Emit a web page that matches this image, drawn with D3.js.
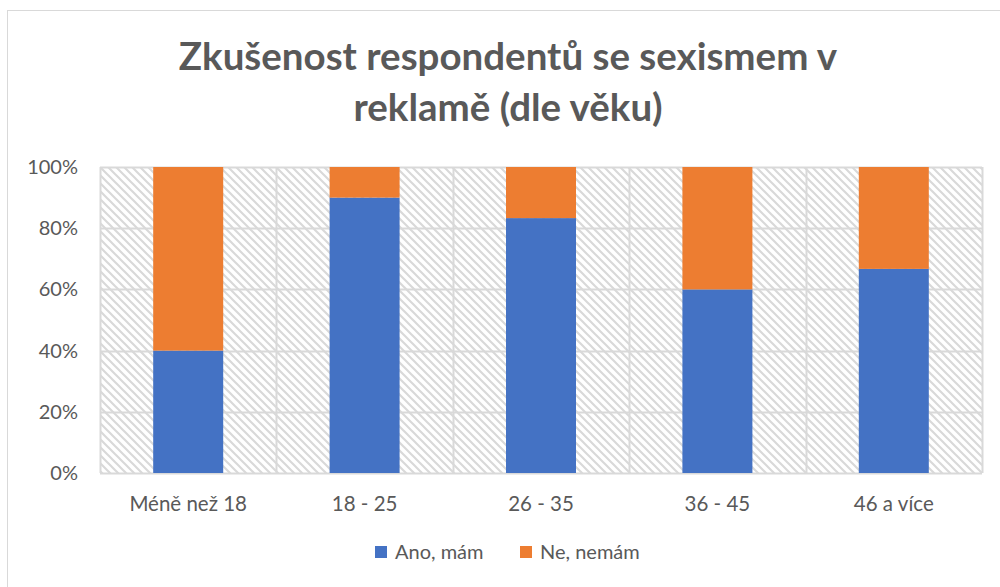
<!DOCTYPE html>
<html>
<head>
<meta charset="utf-8">
<script src="https://cdn.jsdelivr.net/npm/d3@7"></script>
<style>
  body { margin: 0; background: #fff; }
  text { font-family: Lato, "Open Sans", sans-serif; fill: #595959; }
</style>
</head>
<body>
<div id="chart"></div>
<script>
// chart data
var categories = ["Méně než 18", "18 - 25", "26 - 35", "36 - 45", "46 a více"];
var seriesNames = ["Ano, mám", "Ne, nemám"];
var ano = [40, 90, 83.3, 60, 66.7];
var ne = [60, 10, 16.7, 40, 33.3];
var yTicks = [0, 20, 40, 60, 80, 100];
var colors = ["#4472c4", "#ed7d31"];

var svgWidth = 1000;
var svgHeight = 587;
var margin = {top: 167, right: 18, bottom: 114, left: 100};
var width = svgWidth - margin.left - margin.right;
var height = svgHeight - margin.top - margin.bottom;

var svg = d3.select("#chart").append("svg")
  .attr("width", svgWidth).attr("height", svgHeight);

// hatch pattern for plot background
var defs = svg.append("defs");
var pat = defs.append("pattern")
  .attr("id", "hatch")
  .attr("patternUnits", "userSpaceOnUse")
  .attr("width", 8).attr("height", 8);
pat.append("path")
  .attr("d", "M-2,-2 L10,10 M-2,6 L2,10 M6,-2 L10,2")
  .attr("stroke", "#d9d9d9")
  .attr("stroke-width", 2.2);

// outer border
svg.append("rect")
  .attr("x", 7.5).attr("y", 10.5)
  .attr("width", 1000).attr("height", 600)
  .attr("fill", "none").attr("stroke", "#d9d9d9");

// title
var title = svg.append("text")
  .attr("text-anchor", "middle")
  .attr("font-size", 38.5)
  .attr("font-weight", "bold");
title.append("tspan").attr("x", 508).attr("y", 70).text("Zkušenost respondentů se sexismem v");
title.append("tspan").attr("x", 508).attr("y", 121).text("reklamě (dle věku)");

var chartGroup = svg.append("g")
  .attr("transform", `translate(${margin.left}, ${margin.top})`);

var x = d3.scaleBand().domain(categories).range([0, width]).paddingInner(0).paddingOuter(0);
var y = d3.scaleLinear().domain([0, 100]).range([height, 0]);

chartGroup.append("rect")
  .attr("width", width).attr("height", height)
  .attr("fill", "url(#hatch)");

// gridlines
chartGroup.selectAll(".hgrid").data(yTicks).enter().append("line")
  .attr("x1", 0).attr("x2", width)
  .attr("y1", d => Math.round(y(d)) + 0.5).attr("y2", d => Math.round(y(d)) + 0.5)
  .attr("stroke", "#d9d9d9").attr("stroke-width", 2);
var vlines = categories.map(c => x(c)).concat([width]);
chartGroup.selectAll(".vgrid").data(vlines).enter().append("line")
  .attr("x1", d => Math.round(d) + 0.5).attr("x2", d => Math.round(d) + 0.5)
  .attr("y1", 0).attr("y2", height)
  .attr("stroke", "#d9d9d9").attr("stroke-width", 2);

// stacked bars
var rows = categories.map((c, i) => ({cat: c, ano: ano[i], ne: ne[i]}));
var stack = d3.stack().keys(["ano", "ne"])(rows);
var barW = 70;
chartGroup.selectAll(".series").data(stack).enter().append("g")
  .attr("fill", (d, i) => colors[i])
  .selectAll("rect").data(d => d).enter().append("rect")
  .attr("x", d => x(d.data.cat) + x.bandwidth() / 2 - barW / 2)
  .attr("width", barW)
  .attr("y", d => y(d[1]))
  .attr("height", d => y(d[0]) - y(d[1]));

// y axis labels
chartGroup.selectAll(".ytick").data(yTicks).enter().append("text")
  .attr("x", -22).attr("y", d => y(d) + 7)
  .attr("text-anchor", "end")
  .attr("font-size", 20)
  .text(d => d + "%");

// x axis labels
chartGroup.selectAll(".xtick").data(categories).enter().append("text")
  .attr("x", d => x(d) + x.bandwidth() / 2)
  .attr("y", height + 38)
  .attr("text-anchor", "middle")
  .attr("font-size", 20.5)
  .text(d => d);

// legend
var legend = svg.append("g");
var legX = [375, 520];
seriesNames.forEach(function(name, i) {
  legend.append("rect")
    .attr("x", legX[i]).attr("y", 546)
    .attr("width", 12).attr("height", 12)
    .attr("fill", colors[i]);
  legend.append("text")
    .attr("x", legX[i] + 20).attr("y", 559)
    .attr("font-size", 20)
    .text(name);
});
</script>
</body>
</html>
